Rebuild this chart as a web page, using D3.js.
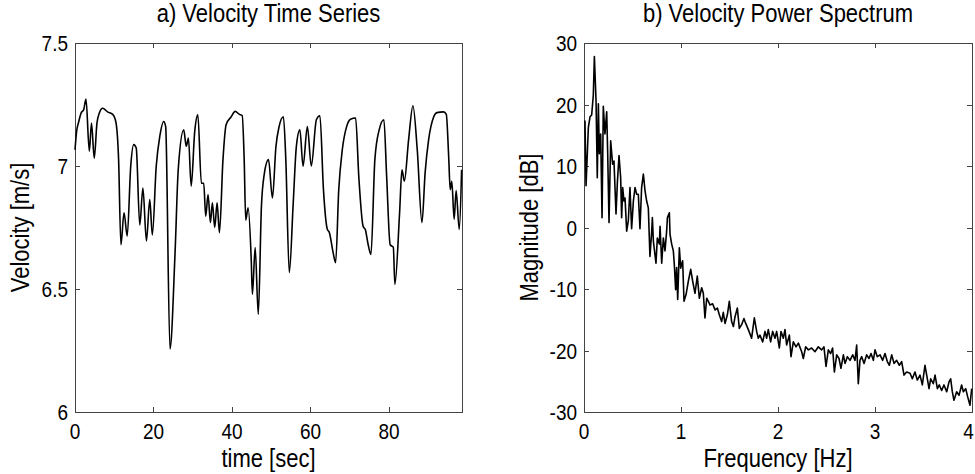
<!DOCTYPE html>
<html><head><meta charset="utf-8">
<script src="https://cdn.jsdelivr.net/npm/d3@7"></script>
<style>
html,body{margin:0;padding:0;background:#fff;}
svg{display:block;font-family:"Liberation Sans",Arial,Helvetica,sans-serif;}
</style></head>
<body><svg id="c" width="975" height="474"></svg>
<script>
// ---- Data: a) velocity time series ----
const timeSec = [0,0.4,0.95,1.6,2.2,2.8,3.65,4.2,4.9,5.6,6.2,7.05,8.3,9.6,10.4,11.1,11.7,12.5,13.3,14.2,14.95,15.6,16.5,17.3,18.2,19.05,19.7,20.7,21.6,22.6,23.1,24.2,25.5,26.3,27.7,28.35,28.9,29.6,30.5,31.3,32.2,32.8,33.3,33.9,34.5,35.0,35.6,36.2,36.8,37.7,38.5,39.8,40.8,41.9,42.6,43.1,43.5,44.1,44.9,45.2,45.9,46.7,47.5,48.2,49.3,50.3,51.2,52.0,53.1,53.7,54.6,55.6,56.4,57.3,58.1,59.2,60.2,61.5,62.4,63.3,64.3,64.8,65.7,66.4,67.2,68.1,69.2,70.2,71.5,72.3,73.4,74.0,74.6,75.4,76.4,77.5,78.7,79.4,80.3,81.1,81.5,82.7,83.3,83.9,85.0,86.1,87.2,88.4,89.2,90.1,91.4,92.2,93.9,94.6,95.2,95.6,96.0,96.6,97.1,97.9,98.5];
const velocity = [7.066,7.14,7.18,7.217,7.228,7.272,7.06,7.175,7.032,7.175,7.215,7.235,7.22,7.21,7.18,7.03,6.68,6.81,6.715,7.0,7.087,7.073,6.76,6.91,6.695,6.864,6.72,7.0,7.12,7.181,7.16,6.256,6.65,6.985,7.147,7.08,7.114,6.918,7.14,7.208,6.93,6.93,6.796,6.884,6.77,6.85,6.75,6.85,6.729,7.026,7.168,7.2,7.222,7.21,7.205,7.03,6.78,6.83,6.62,6.479,6.668,6.397,6.837,6.965,7.026,6.87,7.08,7.16,7.2,7.03,6.567,6.85,7.08,7.147,6.999,7.16,7.0,7.188,7.204,6.904,6.742,6.73,6.654,6.607,6.904,7.066,7.16,7.19,7.195,6.958,6.755,6.74,6.688,6.64,7.026,7.147,7.188,6.958,6.68,6.67,6.519,6.81,6.985,6.938,7.107,7.245,7.066,6.77,6.972,7.107,7.2,7.217,7.22,7.21,7.04,6.904,6.938,6.783,6.9,6.742,6.985];
const timeTicks = [0,20,40,60,80];
const velTicks = [6,6.5,7,7.5];
const velTickLabels = ["6","6.5","7","7.5"];

// ---- Data: b) velocity power spectrum ----
const freqHz = [0.010,0.021,0.045,0.062,0.079,0.096,0.107,0.124,0.137,0.148,0.158,0.172,0.186,0.199,0.216,0.234,0.244,0.258,0.275,0.295,0.309,0.330,0.344,0.361,0.378,0.388,0.399,0.412,0.423,0.440,0.457,0.474,0.491,0.509,0.526,0.543,0.560,0.577,0.594,0.612,0.629,0.646,0.663,0.680,0.698,0.705,0.715,0.742,0.756,0.777,0.784,0.801,0.818,0.835,0.852,0.860,0.880,0.887,0.904,0.921,0.931,0.945,0.955,0.966,0.983,0.997,1.017,1.031,1.052,1.076,1.100,1.120,1.144,1.168,1.189,1.213,1.230,1.247,1.265,1.282,1.299,1.326,1.351,1.375,1.395,1.419,1.436,1.454,1.478,1.498,1.522,1.540,1.557,1.581,1.601,1.625,1.649,1.660,1.694,1.728,1.756,1.780,1.797,1.814,1.842,1.866,1.883,1.900,1.924,1.945,1.969,1.986,2.014,2.031,2.055,2.072,2.089,2.117,2.134,2.158,2.186,2.210,2.244,2.261,2.285,2.313,2.347,2.381,2.416,2.450,2.474,2.495,2.519,2.543,2.563,2.581,2.605,2.629,2.649,2.674,2.691,2.715,2.742,2.770,2.794,2.811,2.828,2.845,2.863,2.887,2.914,2.938,2.959,2.983,3.000,3.024,3.052,3.079,3.103,3.127,3.148,3.172,3.196,3.223,3.251,3.275,3.299,3.326,3.361,3.385,3.412,3.436,3.464,3.488,3.515,3.533,3.557,3.574,3.601,3.619,3.643,3.663,3.687,3.711,3.739,3.763,3.780,3.797,3.814,3.842,3.866,3.893,3.911,3.935,3.955,3.979,3.997];
const magnitudeDb = [17.4,6.8,16.3,18,18.3,21.5,27.8,20.7,8.1,20.1,12,15.2,1.6,19.7,15.2,18.8,12.2,0.8,14.1,10.3,10.8,2.2,7.3,11.7,8.1,1.6,6.5,4.3,4.8,-0.6,1.1,6.5,-0.2,4.3,6.5,5.4,5.4,-0.2,6.5,8.7,6,4.3,3.2,-4.7,-0.6,1.6,-2.2,-5.8,-1.7,-2.7,0.2,-5.8,-1.7,-3.8,-0.6,1.6,2.4,-1.1,-2.7,-3.8,-6,-10.1,-6.5,-11.7,-3.3,-6.6,-5.4,-12,-10.9,-8.7,-6.8,-8.7,-10.7,-7.9,-11.5,-9.8,-10.7,-14.7,-11.5,-12,-12.6,-12.4,-13.4,-13.1,-14.2,-15.3,-13.8,-15.6,-14.2,-12,-15.3,-16.1,-14.5,-13.1,-16.4,-15.8,-14.8,-15.3,-16.6,-18.0,-14.7,-16.9,-18.0,-17.5,-18.6,-16.9,-18.0,-16.6,-18.6,-16.9,-18.0,-16.9,-19.6,-16.9,-18.0,-16.6,-19.1,-17.5,-21.0,-18.6,-19.4,-18.8,-20.2,-21.3,-19.4,-19.9,-19.6,-20.2,-19.4,-19.9,-19.4,-22.6,-19.9,-20.5,-19.6,-23.5,-20.7,-21.3,-22.9,-20.7,-22.1,-21.0,-21.6,-20.7,-21.6,-19.1,-25.4,-21.6,-21.0,-22.1,-20.7,-21.3,-20.5,-21.6,-19.9,-21.0,-20.7,-21.6,-20.5,-21.8,-22.4,-20.7,-22.1,-21.6,-22.4,-21.8,-24.0,-23.5,-23.7,-24.6,-23.5,-24.8,-24.0,-25.6,-22.4,-24.0,-26.2,-24.6,-25.4,-24.0,-26.2,-25.6,-26.5,-25.6,-26.7,-25.1,-24.6,-26.7,-28.1,-26.7,-27.3,-25.6,-26.7,-26.2,-27.5,-28.9,-26.2];
const freqTicks = [0,1,2,3,4];
const dbTicks = [-30,-20,-10,0,10,20,30];

const titles = ["a) Velocity Time Series","b) Velocity Power Spectrum"];
const xLabels = ["time [sec]","Frequency [Hz]"];
const yLabels = ["Velocity [m/s]","Magnitude [dB]"];

// ---- Drawing ----
const svg = d3.select("#c");
const yTop = 43, yBot = 412;
const AX = "#444";
const W = 975;
const panels = [
  {x0:75, x1:462, xd:[0,98.6], yd:[6,7.5], xt:timeTicks, yt:velTicks, ytl:velTickLabels,
   xs:timeSec, ys:velocity, title:titles[0], xl:xLabels[0], yl:yLabels[0], curve:d3.curveMonotoneX},
  {x0:584, x1:972, xd:[0,4], yd:[-30,30], xt:freqTicks, yt:dbTicks, ytl:dbTicks.map(String),
   xs:freqHz, ys:magnitudeDb, title:titles[1], xl:xLabels[1], yl:yLabels[1], curve:d3.curveLinear}
];

function stretchText(sel, sy){
  sel.each(function(){
    const t = d3.select(this);
    const x = +t.attr("x")||0, y = +t.attr("y")||0;
    t.attr("x",0).attr("y",0)
     .attr("transform",`translate(${x},${y}) scale(1,${sy})`);
  });
}

panels.forEach(p=>{
  const x = d3.scaleLinear().domain(p.xd).range([p.x0,p.x1]);
  const y = d3.scaleLinear().domain(p.yd).range([yBot,yTop]);
  const g = svg.append("g");

  g.append("rect").attr("x",p.x0).attr("y",yTop).attr("width",p.x1-p.x0).attr("height",yBot-yTop)
   .attr("fill","none").attr("stroke",AX).attr("stroke-width",1).attr("shape-rendering","crispEdges");

  const axB = d3.axisBottom(x).tickValues(p.xt).tickSizeInner(-5).tickSizeOuter(0).tickFormat("");
  const axT = d3.axisTop(x).tickValues(p.xt).tickSizeInner(-5).tickSizeOuter(0).tickFormat("");
  const axL = d3.axisLeft(y).tickValues(p.yt).tickSizeInner(-5).tickSizeOuter(0).tickFormat("");
  const axR = d3.axisRight(y).tickValues(p.yt).tickSizeInner(-5).tickSizeOuter(0).tickFormat("");
  [[axB,`translate(0,${yBot})`],[axT,`translate(0,${yTop})`],[axL,`translate(${p.x0},0)`],[axR,`translate(${p.x1},0)`]]
   .forEach(([a,tr])=>{
     const ga = g.append("g").attr("transform",tr).call(a);
     ga.select(".domain").remove();
     ga.selectAll("line").attr("stroke",AX).attr("shape-rendering","crispEdges");
   });

  g.selectAll(null).data(p.xt).join("text")
   .attr("x",d=>Math.min(x(d), W-6.5)).attr("y",439).attr("text-anchor","middle")
   .attr("font-size",19).attr("fill","#000").text(d=>d)
   .call(stretchText,1.2);
  g.selectAll(null).data(p.yt).join("text")
   .attr("x",p.x0-7).attr("y",d=>y(d)+8.2).attr("text-anchor","end")
   .attr("font-size",19).attr("fill","#000").text((d,i)=>p.ytl[i])
   .call(stretchText,1.2);

  g.append("text").attr("x",(p.x0+p.x1)/2).attr("y",22).attr("text-anchor","middle")
   .attr("font-size",22).attr("fill","#000").text(p.title).call(stretchText,1.13);
  g.append("text").attr("x",(p.x0+p.x1)/2).attr("y",467).attr("text-anchor","middle")
   .attr("font-size",22).attr("fill","#000").text(p.xl).call(stretchText,1.13);
  g.append("text").attr("text-anchor","middle").attr("font-size",22).attr("fill","#000")
   .attr("transform",`translate(${p.x0-46},${(yTop+yBot)/2}) rotate(-90) scale(1,1.13)`).text(p.yl);

  const pts = p.xs.map((d,i)=>[d,p.ys[i]]);
  g.append("path").datum(pts)
   .attr("fill","none").attr("stroke","#000").attr("stroke-width",1.6).attr("stroke-linejoin","round")
   .attr("d",d3.line().curve(p.curve).x(d=>x(d[0])).y(d=>y(d[1])));
});
</script></body></html>
